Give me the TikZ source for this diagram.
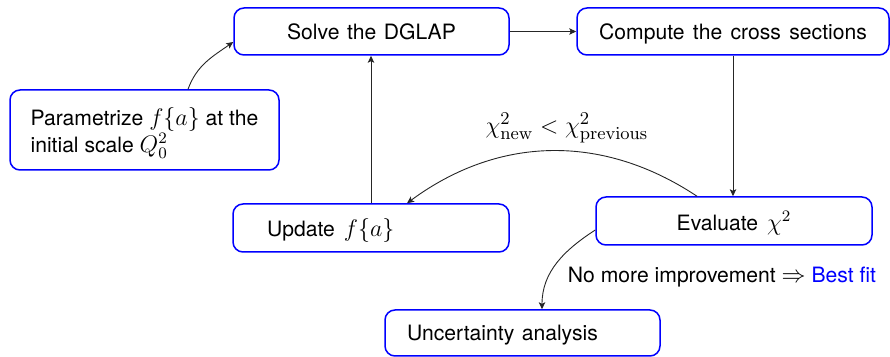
\documentclass[tikz,border=0pt]{standalone}
\usepackage[no-math]{fontspec}
\setmainfont[Scale=0.88]{TeX Gyre Heros}
\DeclareMathSizes{12}{12}{8.5}{6}
\DeclareMathSizes{12.5}{12.5}{8.8}{6.5}
\usetikzlibrary{arrows.meta}
\tikzset{
  box/.style={draw=blue, line width=0.75pt, rounded corners=5pt, inner sep=0pt,
    font=\fontsize{12}{11.6}\selectfont, text depth=0pt},
  conn/.style={draw=black!85, line width=0.45pt, -{Stealth[length=3.5pt,width=3.2pt,inset=0.8pt]}},
  lbl/.style={inner sep=0pt, font=\fontsize{12}{13}\selectfont}
}
\begin{document}
\begin{tikzpicture}[x=0.5pt,y=-0.5pt]
\useasboundingbox (0,0) rectangle (890,357);
\node[box, minimum width=137.5pt, minimum height=23.5pt] (solve) at (371.5,31.5)
  {Solve\hspace{3.8pt}the\hspace{3.8pt}DGLAP};
\node[box, minimum width=156pt, minimum height=23.5pt] (compute) at (733,31.5)
  {Compute\hspace{4.2pt}the\hspace{4.2pt}cross\hspace{4.2pt}sections};
\node[box, minimum width=134.5pt, minimum height=40pt, align=left] (param) at (144.5,130)
  {Parametrize $f\{a\}$ at the\\initial scale $Q_0^2$};
\node[box, text width=104pt, inner xsep=17pt, minimum height=24pt, align=left] (update) at (371,228)
  {Update\hspace{4.5pt}$f\{a\}$};
\node[box, minimum width=138pt, minimum height=24pt] (eval) at (734,221)
  {Evaluate\hspace{4.5pt}$\chi^2$};
\node[box, text width=115.5pt, inner xsep=11pt, minimum height=23pt, align=left] (unc) at (522.5,333)
  {Uncertainty\hspace{3.8pt}analysis};

\node[lbl, font=\fontsize{12.5}{13}\selectfont] (chilbl) at (567,128)
  {$\chi^2_{\mathrm{new}} < \chi^2_{\mathrm{previous}}$};
\node[lbl] (bestlbl) at (722,277) {No more improvement $\Rightarrow$ \textcolor{blue}{Best fit}};

\draw[conn] ([xshift=21.75pt]param.north) to[out=70,in=215] ([yshift=-5.25pt]solve.west);
\draw[conn] (solve.east) -- (compute.west);
\draw[conn] (compute.south) -- (compute.south |- eval.north);
\draw[conn] (update.north) -- (update.north |- solve.south);
\draw[conn] ([xshift=-18.5pt]eval.north) to[bend right=35] ([xshift=18pt]update.north);
\draw[conn] ([yshift=-4.5pt]eval.west) to[out=213,in=90] ([xshift=9.75pt]unc.north);
\end{tikzpicture}
\end{document}
